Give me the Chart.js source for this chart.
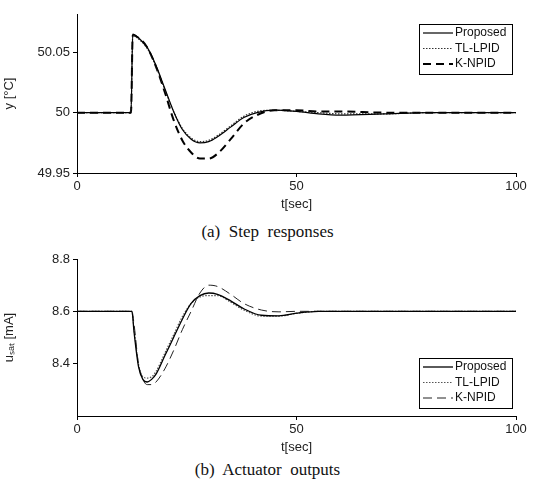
<!DOCTYPE html>
<html>
<head>
<meta charset="UTF-8">
<script src="https://cdn.jsdelivr.net/npm/chart.js@4.4.0/dist/chart.umd.min.js"></script>
<style>
    body { margin: 0; background: #fff; width: 535px; height: 492px; position: relative; overflow: hidden; }
    .plot { position: absolute; left: 0; width: 535px; }
    .cap { position: absolute; left: 0; width: 535px; text-align: center; font-family: "Liberation Serif", serif; font-size: 17px; color: #111; }
</style>
</head>
<body>
<div class="plot" style="top:0;height:212px"><canvas id="c1"></canvas></div>
<div class="cap" style="top:222px">(a)&nbsp; Step&nbsp; responses</div>
<div class="plot" style="top:245px;height:210px"><canvas id="c2"></canvas></div>
<div class="cap" style="top:460px">(b)&nbsp; Actuator&nbsp; outputs</div>
<script>
// step responses
const tY = [0, 12.3, 12.7, 14, 16, 18, 20, 22, 24, 26, 28, 30, 32, 35, 38, 41, 45, 50, 55, 60, 70, 80, 100];
const yProposed = [50, 50, 50.065, 50.062, 50.054, 50.039, 50.02, 50.001, 49.986, 49.978, 49.975, 49.976, 49.980, 49.988, 49.996, 50.000, 50.002, 50.001, 49.999, 49.998, 49.999, 50.0, 50.0];
const yTL = [50, 50, 50.064, 50.061, 50.053, 50.038, 50.019, 50.001, 49.987, 49.979, 49.976, 49.977, 49.981, 49.989, 49.997, 50.001, 50.002, 50.001, 50.0, 49.999, 49.999, 50.0, 50.0];
const yK = [50, 50, 50.064, 50.062, 50.054, 50.038, 50.017, 49.994, 49.977, 49.967, 49.962, 49.962, 49.966, 49.978, 49.991, 49.998, 50.002, 50.002, 50.001, 50.001, 50.0, 50.0, 50.0];
// actuator outputs
const tU = [0, 12.5, 13, 14, 15, 16, 17, 18, 20, 22, 24, 26, 28, 30, 32, 35, 38, 42, 46, 50, 55, 100];
const uProposed = [8.6, 8.6, 8.52, 8.39, 8.34, 8.33, 8.34, 8.36, 8.43, 8.50, 8.57, 8.63, 8.66, 8.67, 8.665, 8.64, 8.61, 8.585, 8.583, 8.593, 8.6, 8.6];
const uTL = [8.6, 8.6, 8.53, 8.40, 8.35, 8.345, 8.35, 8.37, 8.44, 8.51, 8.58, 8.63, 8.655, 8.66, 8.66, 8.635, 8.605, 8.582, 8.582, 8.592, 8.6, 8.6];
const uK = [8.6, 8.6, 8.55, 8.40, 8.34, 8.32, 8.32, 8.33, 8.38, 8.45, 8.53, 8.60, 8.67, 8.70, 8.695, 8.665, 8.63, 8.605, 8.598, 8.6, 8.6, 8.6];
const names = ['Proposed', 'TL-LPID', 'K-NPID'];

function pts(xs, ys) { return xs.map((x, i) => ({ x: x, y: ys[i] })); }

const boxLegend = {
    id: 'boxLegend',
    afterDraw(chart, args, opts) {
        const ctx = chart.ctx, a = chart.chartArea;
        const w = 93, h = 50;
        const x0 = a.right - w - 4;
        const y0 = opts.bottom ? a.bottom - h - 8 : a.top + 10;
        ctx.save();
        ctx.fillStyle = '#fff';
        ctx.fillRect(x0, y0, w, h);
        ctx.strokeStyle = '#000'; ctx.lineWidth = 1;
        ctx.strokeRect(x0 + 0.5, y0 + 0.5, w, h);
        ctx.font = '12px "Liberation Sans", Arial';
        ctx.textBaseline = 'middle';
        chart.data.datasets.forEach((d, i) => {
            const yy = y0 + 9 + i * 15.5;
            ctx.strokeStyle = d.borderColor; ctx.lineWidth = d.borderWidth;
            ctx.setLineDash(d.borderDash || []);
            ctx.beginPath(); ctx.moveTo(x0 + 4, yy); ctx.lineTo(x0 + 34, yy); ctx.stroke();
            ctx.fillStyle = '#111';
            ctx.fillText(d.label, x0 + 36, yy);
        });
        ctx.restore();
    }
};

function makeChart(id, t, series, styles, yMin, yMax, yTicks, yTitle, legendBottom) {
    return new Chart(document.getElementById(id), {
        type: 'line',
        data: {
            datasets: series.map((s, i) => Object.assign({
                label: names[i], data: pts(t, s), pointRadius: 0, fill: false, cubicInterpolationMode: 'monotone'
            }, styles[i]))
        },
        options: {
            responsive: true, maintainAspectRatio: false, animation: false,
            layout: { padding: { top: 14, right: 19 } },
            plugins: { legend: { display: false }, tooltip: { enabled: false }, boxLegend: { bottom: legendBottom } },
            scales: {
                x: {
                    type: 'linear', min: 0, max: 100,
                    afterFit(s) { s.height = 39; },
                    afterBuildTicks(s) { s.ticks = [0, 50, 100].map(v => ({ value: v })); },
                    grid: { drawOnChartArea: false, color: '#000', tickLength: 4 },
                    border: { color: '#000' },
                    ticks: { color: '#222', font: { size: 13, family: 'Liberation Sans' }, maxRotation: 0, padding: 2 },
                    title: { display: true, text: 't[sec]', color: '#222', font: { size: 13, family: 'Liberation Sans' }, padding: 0 }
                },
                y: {
                    min: yMin, max: yMax,
                    afterFit(s) { s.width = 77; },
                    afterBuildTicks(s) { s.ticks = yTicks.map(v => ({ value: v })); },
                    grid: { drawOnChartArea: false, color: '#000', tickLength: 4 },
                    border: { color: '#000' },
                    ticks: { color: '#222', font: { size: 13, family: 'Liberation Sans' }, callback: v => String(Math.round(v * 100) / 100) },
                    title: { display: true, text: yTitle, color: '#222', font: { size: 13, family: 'Liberation Sans' }, padding: 2 }
                }
            }
        },
        plugins: [boxLegend]
    });
}

const stylesTop = [
    { borderColor: '#000', borderWidth: 1.2 },
    { borderColor: '#333', borderWidth: 1.2, borderDash: [1.5, 1.5] },
    { borderColor: '#000', borderWidth: 2, borderDash: [8, 5] }
];
const stylesBot = [
    { borderColor: '#000', borderWidth: 1.3 },
    { borderColor: '#555', borderWidth: 1.2, borderDash: [1.5, 1.5] },
    { borderColor: '#222', borderWidth: 1, borderDash: [9, 5] }
];

makeChart('c1', tY, [yProposed, yTL, yK], stylesTop, 49.95, 50.0817, [49.95, 50, 50.05], 'y [°C]', false);
makeChart('c2', tU, [uProposed, uTL, uK], stylesBot, 8.2, 8.8, [8.4, 8.6, 8.8], 'uₛₐₜ [mA]', true);
</script>
</body>
</html>
